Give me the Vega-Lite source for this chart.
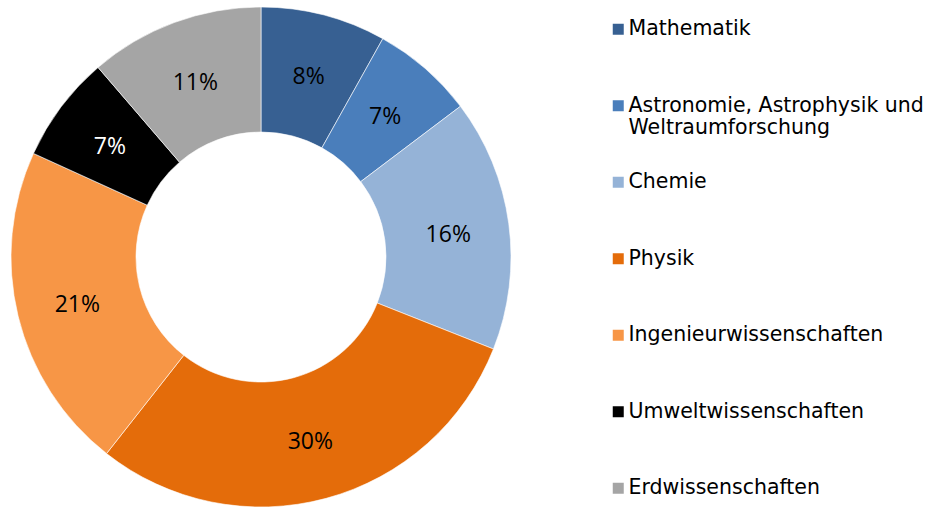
{
  "$schema": "https://vega.github.io/schema/vega-lite/v6.json",
  "width": 522,
  "height": 502,
  "autosize": {"type": "none"},
  "padding": {"left": 0, "top": 6, "right": 418, "bottom": 0},
  "background": "white",
  "config": {"view": {"stroke": null}},
  "data": {
    "values": [
      {"idx": 1, "cat": "Mathematik", "share": 0.081},
      {"idx": 2, "cat": "Astronomie, Astrophysik und Weltraumforschung", "share": 0.066},
      {"idx": 3, "cat": "Chemie", "share": 0.163},
      {"idx": 4, "cat": "Physik", "share": 0.296},
      {"idx": 5, "cat": "Ingenieurwissenschaften", "share": 0.212},
      {"idx": 6, "cat": "Umweltwissenschaften", "share": 0.069},
      {"idx": 7, "cat": "Erdwissenschaften", "share": 0.113}
    ]
  },
  "encoding": {
    "theta": {"field": "share", "type": "quantitative", "stack": true},
    "order": {"field": "idx", "type": "quantitative"}
  },
  "layer": [
    {
      "mark": {"type": "arc", "outerRadius": 250, "innerRadius": 125, "stroke": "white", "strokeWidth": 0.6},
      "encoding": {
        "color": {
          "field": "cat",
          "type": "nominal",
          "scale": {
            "domain": ["Mathematik", "Astronomie, Astrophysik und Weltraumforschung", "Chemie", "Physik", "Ingenieurwissenschaften", "Umweltwissenschaften", "Erdwissenschaften"],
            "range": ["#376092", "#4a7ebb", "#95b3d7", "#e46c0a", "#f79646", "#000000", "#a5a5a5"]
          },
          "legend": {
            "title": null,
            "orient": "none",
            "legendX": 608,
            "legendY": 13,
            "padding": 0,
            "symbolType": "square",
            "symbolSize": 121,
            "symbolStrokeWidth": 0,
            "labelFont": "DejaVu Sans",
            "labelFontSize": 20.5,
            "labelColor": "#000000",
            "labelOffset": 0,
            "labelLimit": 400,
            "gridAlign": "all",
            "rowPadding": 32.5,
            "labelExpr": "datum.label == 'Astronomie, Astrophysik und Weltraumforschung' ? ['Astronomie, Astrophysik und', 'Weltraumforschung'] : datum.label"
          }
        }
      }
    },
    {
      "mark": {"type": "text", "radius": 189, "font": "Open Sans", "fontSize": 23, "dy": 3},
      "encoding": {
        "text": {"field": "share", "type": "quantitative", "format": ".0%"},
        "color": {
          "condition": {"test": "datum.cat === 'Umweltwissenschaften'", "value": "#ffffff"},
          "value": "#000000"
        }
      }
    }
  ]
}
